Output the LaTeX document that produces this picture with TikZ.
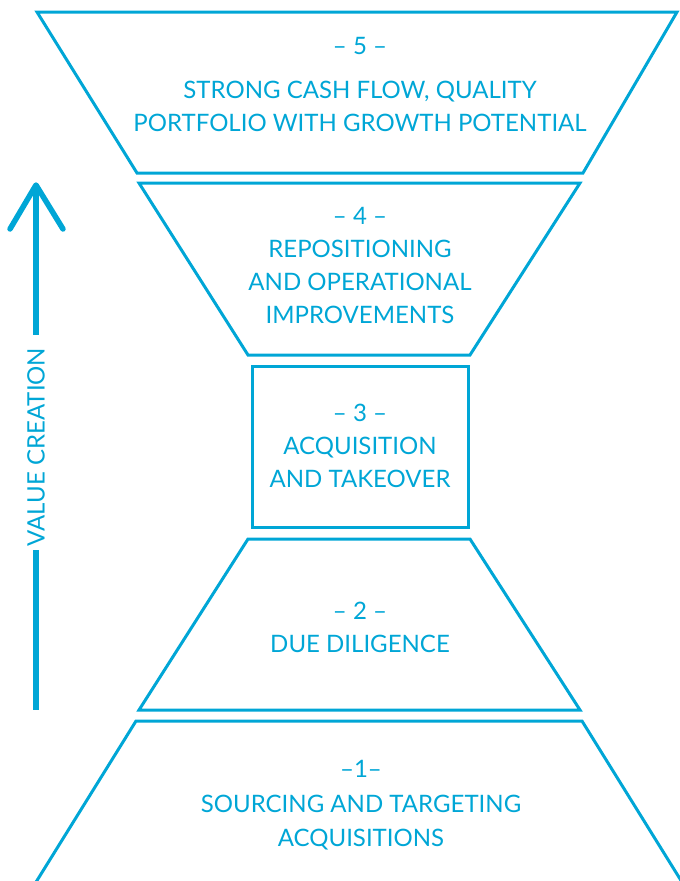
\documentclass[tikz,border=0pt]{standalone}
\usepackage{fontspec}
\setmainfont{Lato}
\definecolor{vcblue}{RGB}{0,166,214}

\begin{document}
\begin{tikzpicture}[
        x=1pt, y=-1pt,
        stage/.style={draw=vcblue, line width=3pt},
        axis/.style={draw=vcblue, line width=5.5pt},
        every node/.style={text=vcblue, inner sep=0pt, align=center,
            font=\fontsize{24}{33}\selectfont}
    ]
        \clip (0,0) rectangle (680,881);

        % Vẽ các tầng
        \draw[stage] (37,12) -- (677,12) -- (583,173) -- (137,173) -- cycle;
        \draw[stage] (139,183) -- (580,183) -- (470,355) -- (248,355) -- cycle;
        \draw[stage] (252,366) rectangle (468,527);
        \draw[stage] (248,539) -- (470,539) -- (580,710) -- (139,710) -- cycle;
        \draw[stage] (136,721) -- (582,721) -- (690,895) -- (28,895) -- cycle;

        % Chữ trong các tầng
        \node (s5) at (360,84) {– 5 –\\[11pt]STRONG CASH FLOW, QUALITY\\PORTFOLIO WITH GROWTH POTENTIAL};
        \node (s4) at (360,265) {– 4 –\\REPOSITIONING\\AND OPERATIONAL\\IMPROVEMENTS};
        \node (s3) at (360,446) {– 3 –\\ACQUISITION\\AND TAKEOVER};
        \node (s2) at (360,627) {– 2 –\\DUE DILIGENCE};
        \node (s1) at (361,805) {–1–\\[2pt]SOURCING AND TARGETING\\[1pt]ACQUISITIONS};

        % Mũi tên giá trị
        \node[rotate=90] (vc) at (36,447) {VALUE CREATION};
        \coordinate (tip) at (36,185);
        \coordinate (tail) at (36,710);
        \coordinate (barbL) at (10,229);
        \coordinate (barbR) at (63,229);
        \draw[axis, shorten <=13pt] (vc.east) -- (tip);
        \draw[axis, shorten <=4pt] (vc.west) -- (tail);
        \draw[axis, line cap=round, line join=round] (barbL) -- (tip) -- (barbR);
    \end{tikzpicture}
\end{document}
